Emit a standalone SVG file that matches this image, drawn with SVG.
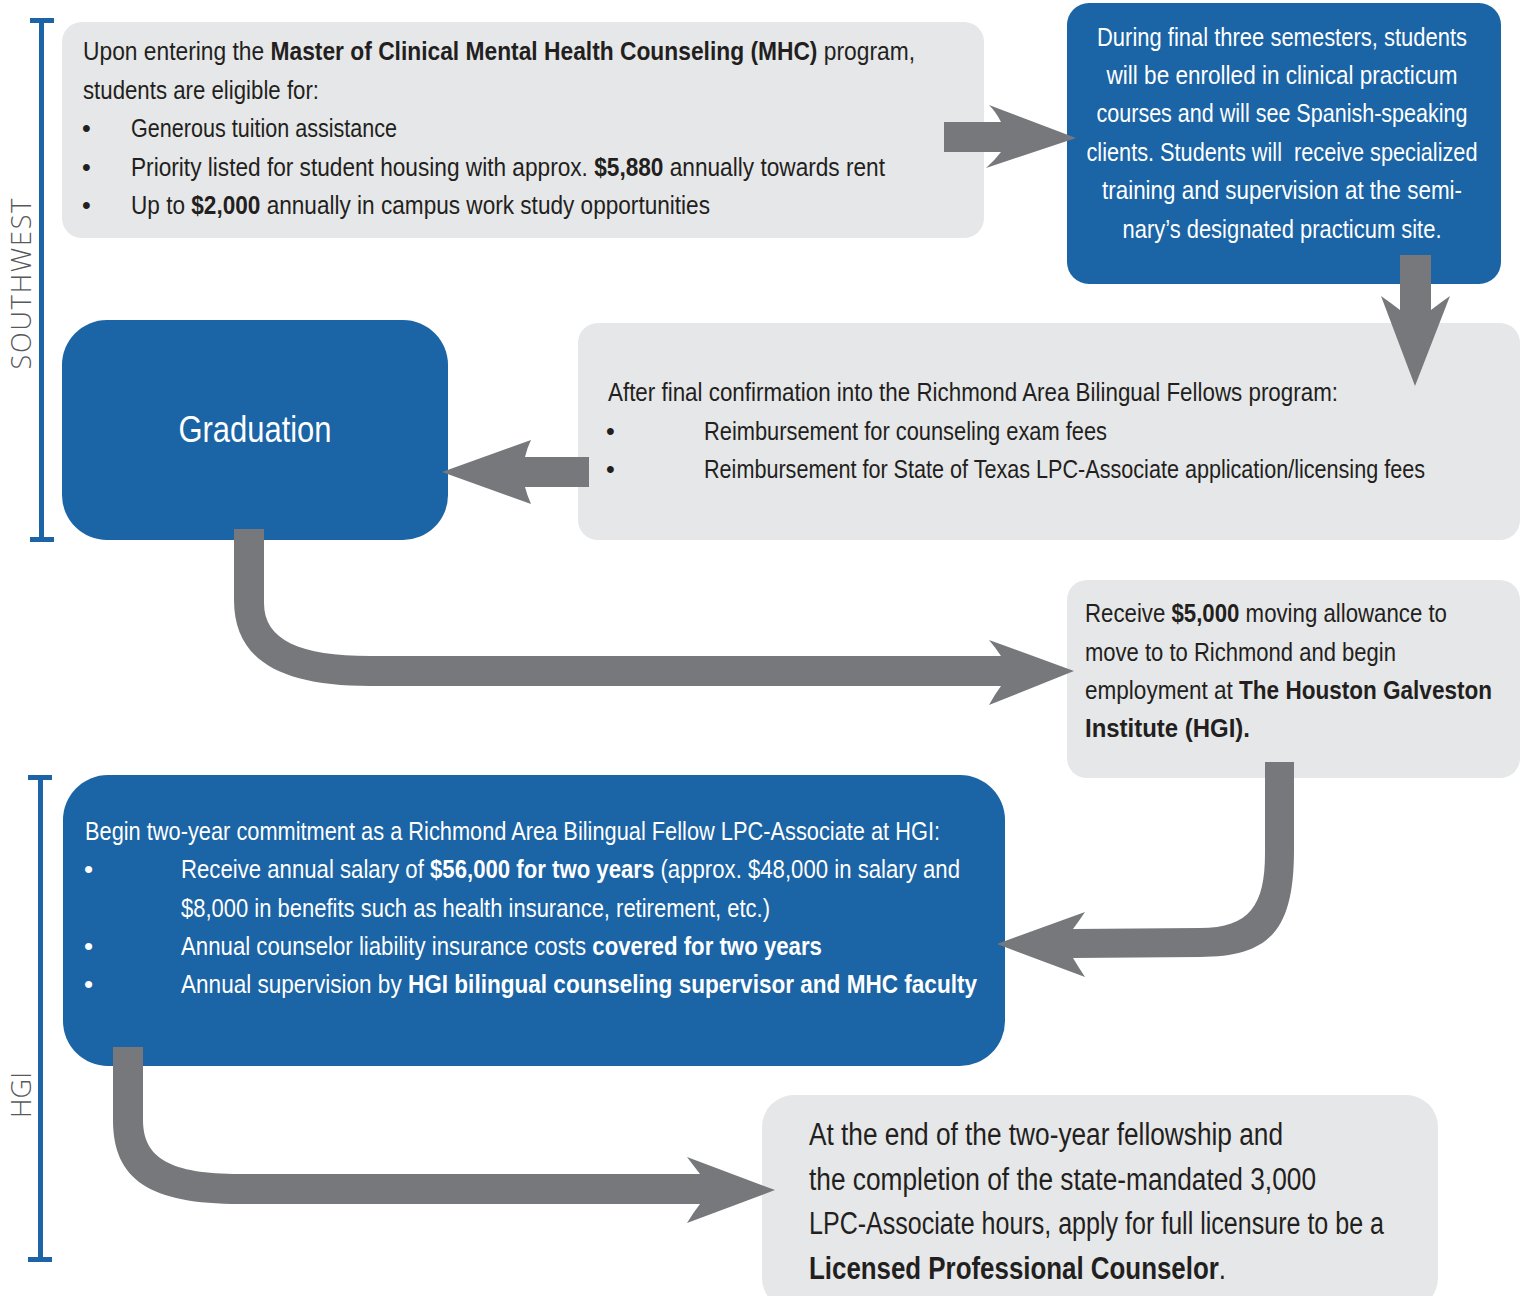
<svg xmlns="http://www.w3.org/2000/svg" width="1528" height="1296" viewBox="0 0 1528 1296">
<style>
.grey{fill:#e6e7e8}
.blue{fill:#1b64a5}
.arrow{fill:#77787b}
.brk{fill:#1c64a6}
.t{font-family:"Liberation Sans",Arial,sans-serif;font-size:25px;fill:#231f20}
.tw{font-family:"Liberation Sans",Arial,sans-serif;font-size:26px;fill:#ffffff}
.grad{font-family:"Liberation Sans",Arial,sans-serif;font-size:36px;fill:#ffffff}
.big{font-family:"Liberation Sans",Arial,sans-serif;font-size:31px;fill:#231f20}
.b{font-weight:bold}
.lbl{font-family:"Open Sans","Liberation Sans",sans-serif;font-weight:300;font-size:27px;fill:#58595b}
</style>
<rect width="1528" height="1296" fill="#ffffff"/>

<g id="brackets">
  <rect class="brk" x="39" y="18" width="5" height="523"/>
  <rect class="brk" x="30" y="18" width="24" height="5"/>
  <rect class="brk" x="30" y="537" width="24" height="5"/>
  <rect class="brk" x="38" y="775" width="5" height="487"/>
  <rect class="brk" x="28" y="775" width="24" height="5"/>
  <rect class="brk" x="28" y="1257" width="24" height="5"/>
  <text class="lbl" transform="translate(31,284) rotate(-90)" text-anchor="middle" textLength="171" lengthAdjust="spacing">SOUTHWEST</text>
  <text class="lbl" transform="translate(31,1095) rotate(-90)" text-anchor="middle" textLength="46" lengthAdjust="spacing">HGI</text>
</g>

<g id="node-mhc">
  <rect class="grey" x="62" y="22" width="922" height="216" rx="20"/>
  <text class="t" x="83" y="60" textLength="832" lengthAdjust="spacingAndGlyphs">Upon entering the <tspan class="b">Master of Clinical Mental Health Counseling (MHC)</tspan> program,</text>
  <text class="t" x="83" y="99" textLength="236" lengthAdjust="spacingAndGlyphs">students are eligible for:</text>
  <text class="t" x="82" y="137">•</text>
  <text class="t" x="131" y="137" textLength="266" lengthAdjust="spacingAndGlyphs">Generous tuition assistance</text>
  <text class="t" x="82" y="176">•</text>
  <text class="t" x="131" y="176" textLength="754" lengthAdjust="spacingAndGlyphs">Priority listed for student housing with approx. <tspan class="b">$5,880</tspan> annually towards rent</text>
  <text class="t" x="82" y="214">•</text>
  <text class="t" x="131" y="214" textLength="579" lengthAdjust="spacingAndGlyphs">Up to <tspan class="b">$2,000</tspan> annually in campus work study opportunities</text>
</g>

<g id="node-practicum">
  <rect class="blue" x="1067" y="3" width="434" height="281" rx="22"/>
  <text class="tw" x="1282" y="46" text-anchor="middle" textLength="370" lengthAdjust="spacingAndGlyphs">During final three semesters, students</text>
  <text class="tw" x="1282" y="84" text-anchor="middle" textLength="351" lengthAdjust="spacingAndGlyphs">will be enrolled in clinical practicum</text>
  <text class="tw" x="1282" y="122" text-anchor="middle" textLength="371" lengthAdjust="spacingAndGlyphs">courses and will see Spanish-speaking</text>
  <text class="tw" x="1282" y="161" text-anchor="middle" textLength="391" lengthAdjust="spacingAndGlyphs" xml:space="preserve">clients. Students will  receive specialized</text>
  <text class="tw" x="1282" y="199" text-anchor="middle" textLength="360" lengthAdjust="spacingAndGlyphs">training and supervision at the semi-</text>
  <text class="tw" x="1282" y="238" text-anchor="middle" textLength="319" lengthAdjust="spacingAndGlyphs">nary’s designated practicum site.</text>
</g>

<g id="node-confirmation">
  <rect class="grey" x="578" y="323" width="942" height="217" rx="20"/>
  <text class="t" x="608" y="401" textLength="730" lengthAdjust="spacingAndGlyphs">After final confirmation into the Richmond Area Bilingual Fellows program:</text>
  <text class="t" x="606" y="440">•</text>
  <text class="t" x="704" y="440" textLength="403" lengthAdjust="spacingAndGlyphs">Reimbursement for counseling exam fees</text>
  <text class="t" x="606" y="478">•</text>
  <text class="t" x="704" y="478" textLength="721" lengthAdjust="spacingAndGlyphs">Reimbursement for State of Texas LPC-Associate application/licensing fees</text>
</g>

<g id="node-graduation">
  <rect class="blue" x="62" y="320" width="386" height="220" rx="45"/>
  <text class="grad" x="255" y="442" text-anchor="middle" textLength="153" lengthAdjust="spacingAndGlyphs">Graduation</text>
</g>

<g id="node-moving">
  <rect class="grey" x="1067" y="580" width="453" height="198" rx="20"/>
  <text class="t" x="1085" y="622" textLength="362" lengthAdjust="spacingAndGlyphs">Receive <tspan class="b">$5,000</tspan> moving allowance to</text>
  <text class="t" x="1085" y="661" textLength="311" lengthAdjust="spacingAndGlyphs">move to to Richmond and begin</text>
  <text class="t" x="1085" y="699" textLength="407" lengthAdjust="spacingAndGlyphs">employment at <tspan class="b">The Houston Galveston</tspan></text>
  <text class="t b" x="1085" y="737" textLength="165" lengthAdjust="spacingAndGlyphs">Institute (HGI).</text>
</g>

<g id="node-commitment">
  <rect class="blue" x="63" y="775" width="942" height="291" rx="45"/>
  <text class="tw" x="85" y="840" textLength="855" lengthAdjust="spacingAndGlyphs">Begin two-year commitment as a Richmond Area Bilingual Fellow LPC-Associate at HGI:</text>
  <text class="tw" x="84" y="878">•</text>
  <text class="tw" x="181" y="878" textLength="779" lengthAdjust="spacingAndGlyphs">Receive annual salary of <tspan class="b">$56,000 for two years</tspan> (approx. $48,000 in salary and</text>
  <text class="tw" x="181" y="917" textLength="589" lengthAdjust="spacingAndGlyphs">$8,000 in benefits such as health insurance, retirement, etc.)</text>
  <text class="tw" x="84" y="955">•</text>
  <text class="tw" x="181" y="955" textLength="641" lengthAdjust="spacingAndGlyphs">Annual counselor liability insurance costs <tspan class="b">covered for two years</tspan></text>
  <text class="tw" x="84" y="993">•</text>
  <text class="tw" x="181" y="993" textLength="796" lengthAdjust="spacingAndGlyphs">Annual supervision by <tspan class="b">HGI bilingual counseling supervisor and MHC faculty</tspan></text>
</g>

<g id="node-licensure">
  <rect class="grey" x="762" y="1095" width="676" height="215" rx="32"/>
  <text class="big" x="809" y="1145" textLength="474" lengthAdjust="spacingAndGlyphs">At the end of the two-year fellowship and</text>
  <text class="big" x="809" y="1190" textLength="507" lengthAdjust="spacingAndGlyphs">the completion of the state-mandated 3,000</text>
  <text class="big" x="809" y="1234" textLength="575" lengthAdjust="spacingAndGlyphs">LPC-Associate hours, apply for full licensure to be a</text>
  <text class="big" x="809" y="1279" textLength="417" lengthAdjust="spacingAndGlyphs"><tspan class="b">Licensed Professional Counselor</tspan>.</text>
</g>

<g id="connectors">
  <path class="arrow" d="M944,122 L1001,122 Q996,112 989,105 L1076,138 L986,168 Q995,160 1001,152 L944,152 Z"/>
  <path class="arrow" d="M1400,255 L1431,255 L1431,310 Q1440,303 1450,296 L1415,386 L1381,296 Q1391,303 1400,310 Z"/>
  <path class="arrow" d="M589,457 L525,457 Q527,448 531,440 L442,472 L531,504 Q527,495 525,487 L589,487 Z"/>
  <path class="arrow" d="M234,529 L264,529 L264,603 C264,640 300,656 370,656 L1001,656 Q995,647 989,640 L1074,671 L989,705 Q995,694 1001,686 L370,686 C280,686 234,660 234,600 Z"/>
  <path class="arrow" d="M1265,762 L1294,762 L1294,850 C1294,930 1270,957 1200,957 L1073,958 Q1079,968 1085,977 L997,944 L1085,912 Q1079,921 1073,929 L1200,928 C1250,928 1265,905 1265,853 Z"/>
  <path class="arrow" d="M113,1047 L143,1047 L143,1120 C143,1158 170,1174 240,1174 L700,1174 Q693,1165 687,1157 L775,1190 L687,1223 Q693,1213 700,1204 L240,1204 C150,1204 113,1180 113,1120 Z"/>
</g>
</svg>
